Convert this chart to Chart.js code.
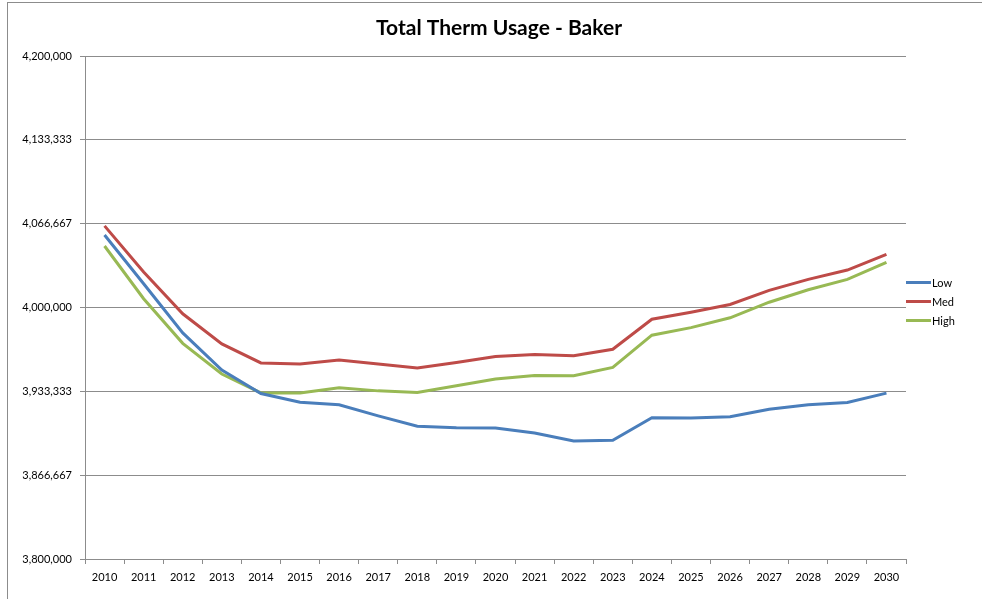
<!DOCTYPE html>
<html>
<head>
<meta charset="utf-8">
<title>Total Therm Usage - Baker</title>
<script src="https://cdn.jsdelivr.net/npm/chart.js@4/dist/chart.umd.min.js"></script>
<style>
  html, body { margin: 0; padding: 0; background: #fff; }
  #wrap { width: 982px; height: 599px; }
</style>
</head>
<body>
<div id="wrap"><canvas id="thermChart" width="982" height="599"></canvas></div>
<script>
// data
const years = ['2010', '2011', '2012', '2013', '2014', '2015', '2016', '2017', '2018', '2019', '2020',
  '2021', '2022', '2023', '2024', '2025', '2026', '2027', '2028', '2029', '2030'];
const lowValues = [4057700, 4018900, 3979800, 3950300, 3931600, 3924700, 3922600, 3913800, 3905600, 3904400, 3904200,
  3900200, 3893800, 3894400, 3912400, 3912200, 3913200, 3919100, 3922600, 3924400, 3931900];
const medValues = [4064900, 4028200, 3995000, 3971000, 3955900, 3955100, 3958200, 3955100, 3951900, 3956300, 3961100,
  3962700, 3961700, 3966800, 3990700, 3996300, 4002400, 4013600, 4022400, 4029800, 4042300];
const highValues = [4048900, 4007000, 3971500, 3947100, 3932100, 3932100, 3936100, 3933700, 3932400, 3937700, 3943100,
  3946000, 3945700, 3952300, 3978000, 3984000, 3991800, 4004200, 4014100, 4022400, 4035900];
const seriesNames = ['Low', 'Med', 'High'];
const seriesColors = ['#4A7EBB', '#BE4B48', '#98B954'];
const yMin = 3800000;
const yMax = 4200000;
const chartTitle = 'Total Therm Usage - Baker';

const FONT = 'Lato, "Open Sans", sans-serif';
const GRID = '#8c8c8c';

// title, legend and outer frame like the excel chart
const decorPlugin = {
  id: 'decor',
  afterDraw(chart) {
    const ctx = chart.ctx;
    ctx.save();
    ctx.strokeStyle = '#8c8c8c';
    ctx.lineWidth = 1;
    ctx.strokeRect(7.5, 2.5, 1200, 1200);

    ctx.fillStyle = '#000';
    ctx.font = 'bold 21px ' + FONT;
    ctx.textAlign = 'center';
    ctx.textBaseline = 'middle';
    ctx.fillText(chartTitle, 499, 28);

    ctx.font = '11px ' + FONT;
    ctx.textAlign = 'left';
    chart.data.datasets.forEach((ds, i) => {
      const y = 282 + i * 19;
      ctx.strokeStyle = ds.borderColor;
      ctx.lineWidth = 3;
      ctx.beginPath();
      ctx.moveTo(906, y + 0.5);
      ctx.lineTo(931, y + 0.5);
      ctx.stroke();
      ctx.fillStyle = '#000';
      ctx.fillText(ds.label, 932, y + 1);
    });
    ctx.restore();
  }
};

const makeSet = (label, values, color) => ({
  label: label,
  data: values,
  borderColor: color,
  backgroundColor: color,
  borderWidth: 3,
  pointRadius: 0,
  pointHoverRadius: 0,
  tension: 0,
  fill: false
});

new Chart(document.getElementById('thermChart').getContext('2d'), {
  type: 'line',
  data: {
    labels: years,
    datasets: [
      makeSet(seriesNames[0], lowValues, seriesColors[0]),
      makeSet(seriesNames[1], medValues, seriesColors[1]),
      makeSet(seriesNames[2], highValues, seriesColors[2])
    ]
  },
  options: {
    responsive: false,
    animation: false,
    layout: {padding: {top: 56, right: 76, left: 0, bottom: 0}},
    plugins: {
      legend: {display: false},
      title: {display: false},
      tooltip: {enabled: false}
    },
    scales: {
      x: {
        offset: true,
        grid: {
          offset: true,
          drawOnChartArea: false,
          drawTicks: true,
          tickLength: 5,
          color: GRID
        },
        border: {color: GRID, width: 1},
        ticks: {
          color: '#000',
          font: {family: FONT, size: 11},
          padding: 7,
          maxRotation: 0,
          autoSkip: false
        },
        afterFit(scale) { scale.height = 40; }
      },
      y: {
        min: yMin,
        max: yMax,
        grid: {
          color: GRID,
          tickLength: 5
        },
        border: {color: GRID, width: 1},
        ticks: {
          count: 7,
          color: '#000',
          font: {family: FONT, size: 11},
          padding: 8,
          callback: (v) => Math.round(v).toLocaleString('en-US')
        },
        afterFit(scale) { scale.width = 85; }
      }
    }
  },
  plugins: [decorPlugin]
});
</script>
</body>
</html>
